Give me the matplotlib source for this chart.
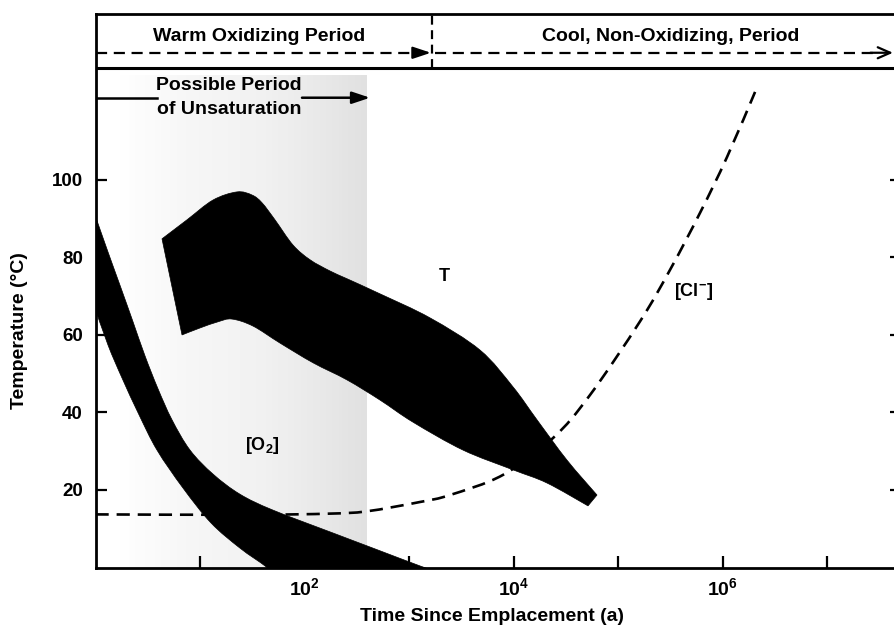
import numpy as np
import matplotlib
matplotlib.use("Agg")
import matplotlib.pyplot as plt
from matplotlib.path import Path
from matplotlib.patches import PathPatch
from matplotlib.ticker import FixedLocator, FuncFormatter, NullLocator

plt.rcParams['font.family'] = ['Liberation Sans', 'DejaVu Sans']
plt.rcParams['font.weight'] = 'bold'
plt.rcParams['mathtext.fontset'] = 'custom'
plt.rcParams['mathtext.rm'] = 'Liberation Sans:bold'
plt.rcParams['mathtext.bf'] = 'Liberation Sans:bold'
plt.rcParams['mathtext.it'] = 'Liberation Sans:bold'

# ---- data (time in years, temperature in deg C) ----
# temperature envelope T
t_top_time = [4.33, 7.51, 13.32, 22.6, 31.45, 39.2, 52.2, 77.6, 112.9, 175.4,
              255, 528, 1589, 4779, 9890, 16790, 32510, 62950]
t_top_temp = [84.8, 89.7, 94.8, 96.9, 96.1, 94.1, 89.7, 83.2, 79.4, 76.5,
              74.5, 70.6, 64.4, 56.1, 46.6, 38.1, 27.7, 18.7]
t_bot_time = [51630, 20920, 9890, 3286, 1092, 528, 255, 121, 58.3, 32.1, 20.2, 14.9, 10.0, 6.73]
t_bot_temp = [15.9, 21.8, 25.2, 30.3, 37.5, 43.2, 48.4, 52.8, 57.9, 62.3, 64.1, 63.4, 61.8, 60.0]

# oxygen band [O2]
o2_up_time = [0.97, 1.317, 1.754, 2.285, 2.976, 3.964, 5.397, 8.024, 13.32, 24.14,
              49.95, 187.4, 472.7, 1275, 1981]
o2_up_val = [91.6, 81.4, 72.1, 63.4, 54.6, 46.1, 38.1, 30.3, 24.1, 18.9,
             14.8, 8.9, 4.8, 0.4, -1.4]
o2_lo_time = [46.8, 41.9, 24.14, 12.74, 6.877, 3.877, 2.609, 1.793, 1.317, 0.97]
o2_lo_val = [-1.2, 0.4, 5.0, 11.5, 20.5, 30.3, 39.4, 48.9, 57.4, 67.6]

# chloride curve [Cl-]
cl_time = [1.0, 30, 175, 396, 1274, 2466, 7943, 23880, 53950, 162500,
           314800, 609500, 1.105e6, 2.05e6]
cl_val = [13.7, 13.6, 13.9, 14.5, 16.9, 18.7, 23.9, 33.4, 44.5, 63.5,
          76.8, 91.5, 105.9, 122.7]

unsat_end = 400          # end of possible unsaturated period (a)
oxidizing_end = 1660     # end of warm oxidizing period (a)
temp_ticks = [20, 40, 60, 80, 100]
time_ticks = [1e1, 1e2, 1e3, 1e4, 1e5, 1e6, 1e7]


def smooth_segment(times, vals, first=True):
    """Cubic Bezier path pieces through the points, smooth in log-time."""
    p = np.column_stack([np.log10(times), vals])
    n = len(p)
    verts = [p[0]]
    codes = [Path.MOVETO if first else Path.LINETO]
    for i in range(n - 1):
        p0 = p[i - 1] if i > 0 else p[i]
        p1, p2 = p[i], p[i + 1]
        p3 = p[i + 2] if i + 2 < n else p[i + 1]
        verts += [p1 + (p2 - p0) / 6.0, p2 - (p3 - p1) / 6.0, p2]
        codes += [Path.CURVE4] * 3
    v = np.array(verts)
    v[:, 0] = 10 ** v[:, 0]
    return v, codes


def smooth_path(*pieces, closed=False):
    verts, codes = [], []
    for k, (t, y) in enumerate(pieces):
        v, c = smooth_segment(t, y, first=(k == 0))
        verts.append(v)
        codes += c
    verts = np.vstack(verts)
    if closed:
        verts = np.vstack([verts, verts[:1]])
        codes.append(Path.CLOSEPOLY)
    return Path(verts, codes)


# ---- figure ----
fig = plt.figure(figsize=(8.94, 6.29), dpi=100)
ax = fig.add_axes([95.5 / 894, 61.5 / 629, 805 / 894, 553.5 / 629])
ax.set_xscale('log')
ax.set_xlim(1, 10 ** (805 / 104.5))
ax.set_ylim(0, 142.8)
Y_SEP = 128.9

for s in ax.spines.values():
    s.set_linewidth(2.0)

# stippled unsaturated zone, darkening towards its end
shade_pos = [0.2, 0.9, 1.6, 2.1, np.log10(unsat_end)]
shade_gray = [1.0, 0.965, 0.945, 0.915, 0.88]
edges = np.linspace(shade_pos[0], shade_pos[-1], 80)
for a, b in zip(edges[:-1], edges[1:]):
    g = np.interp(0.5 * (a + b), shade_pos, shade_gray)
    ax.axvspan(10 ** a, 10 ** b, ymin=0, ymax=127 / 142.8, color=str(g), lw=0, zorder=1)

# chloride concentration trend
ax.add_patch(PathPatch(smooth_path((cl_time, cl_val)), fill=False, edgecolor='k',
                       lw=1.9, ls=(0, (5, 3)), zorder=2))

# temperature and oxygen bands
ax.add_patch(PathPatch(smooth_path((t_top_time, t_top_temp), (t_bot_time, t_bot_temp),
                                   closed=True),
                       facecolor='k', edgecolor='k', lw=0.5, zorder=3))
ax.add_patch(PathPatch(smooth_path((o2_up_time, o2_up_val), (o2_lo_time, o2_lo_val),
                                   closed=True),
                       facecolor='k', edgecolor='k', lw=0.5, zorder=3))

# header band
ax.axhline(Y_SEP, color='k', lw=2.2, zorder=4)
ax.plot([oxidizing_end, oxidizing_end], [Y_SEP, 142.8], color='k', lw=1.6,
        ls=(0, (4, 2.5)), zorder=4)
ax.text(36.7, 136.9, 'Warm Oxidizing Period', ha='center', va='center',
        fontsize=14, fontweight='bold')
ax.text(3.21e5, 136.9, 'Cool, Non-Oxidizing, Period', ha='center', va='center',
        fontsize=14, fontweight='bold')
ax.plot([1, 1100], [132.8, 132.8], color='k', lw=1.6, ls=(0, (5, 3)), zorder=4)
ax.annotate('', xy=(1620, 132.8), xytext=(1150, 132.8),
            arrowprops=dict(arrowstyle='-|>,head_length=0.6,head_width=0.2',
                            color='k', lw=1.6, mutation_scale=18, shrinkA=0, shrinkB=0))
ax.plot([1780, 3.0e7], [132.8, 132.8], color='k', lw=1.6, ls=(0, (5, 3)), zorder=4)
ax.annotate('', xy=(4.28e7, 132.8), xytext=(2.6e7, 132.8),
            arrowprops=dict(arrowstyle='->,head_length=0.5,head_width=0.22',
                            color='k', lw=1.6, mutation_scale=18, shrinkA=0, shrinkB=0))

# possible period of unsaturation
ax.plot([1, 3.88], [121.2, 121.2], color='k', lw=1.8, zorder=4)
ax.annotate('', xy=(unsat_end * 1.06, 121.2), xytext=(94.6, 121.2),
            arrowprops=dict(arrowstyle='-|>,head_length=0.6,head_width=0.2',
                            color='k', lw=1.8, mutation_scale=18, shrinkA=0, shrinkB=0))
ax.text(18.95, 124.3, 'Possible Period', ha='center', va='center', fontsize=14,
        fontweight='bold')
ax.text(18.95, 118.1, 'of Unsaturation', ha='center', va='center', fontsize=14,
        fontweight='bold')

# curve labels
ax.text(2163, 75.2, 'T', ha='center', va='center', fontsize=13, fontweight='bold', zorder=5)
ax.text(5.23e5, 71.3, r'[Cl$^{-}$]', ha='center', va='center', fontsize=13,
        fontweight='bold', zorder=5)
ax.text(39.2, 31.4, r'[O$_2$]', ha='center', va='center', fontsize=13,
        fontweight='bold', zorder=5)

# axes ticks
ax.yaxis.set_major_locator(FixedLocator(temp_ticks))
ax.yaxis.set_minor_locator(NullLocator())
ax.tick_params(axis='y', direction='in', length=8, width=1.6, labelsize=13.5, pad=9,
               left=True, right=True)
for lab in ax.get_yticklabels():
    lab.set_fontweight('bold')

ax.xaxis.set_major_locator(FixedLocator(time_ticks))
ax.xaxis.set_minor_locator(NullLocator())


def fmt_time(v, pos):
    k = int(round(np.log10(v)))
    return rf'$10^{{{k}}}$' if k % 2 == 0 else ''


ax.xaxis.set_major_formatter(FuncFormatter(fmt_time))
ax.tick_params(axis='x', direction='in', length=9, width=1.6, labelsize=14, pad=7,
               top=False)

ax.set_xlabel('Time Since Emplacement (a)', fontsize=14, fontweight='bold')
ax.xaxis.label.set_va('center')
ax.xaxis.set_label_coords((492 - 95.5) / 805, -0.0894)
ax.set_ylabel('Temperature (\u00b0C)', fontsize=14, fontweight='bold')
ax.yaxis.label.set_va('center')
ax.yaxis.set_label_coords(-75.5 / 805, 0.4273)

fig.savefig('out.png', dpi=100, facecolor='white')
